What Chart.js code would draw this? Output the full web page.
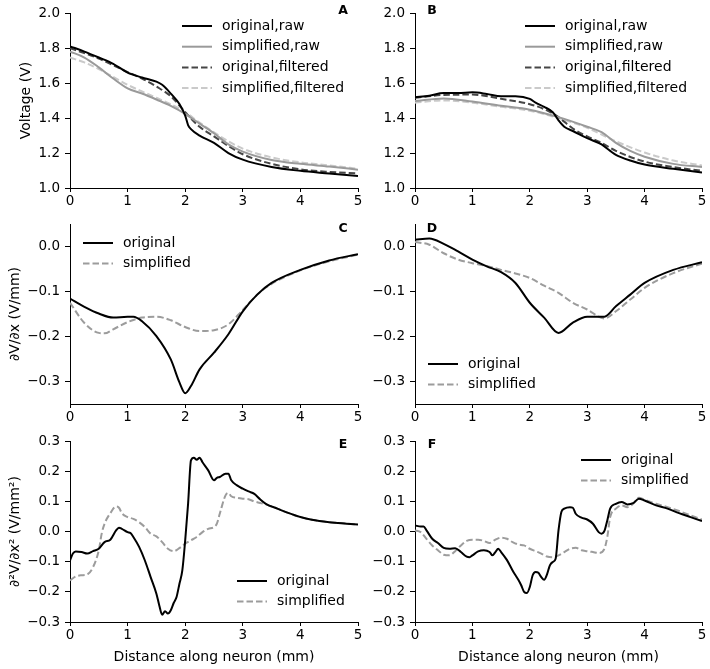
<!DOCTYPE html>
<html>
<head>
<meta charset="utf-8">
<script src="https://cdn.jsdelivr.net/npm/chart.js@4/dist/chart.umd.min.js"></script>
<style>
  body { margin: 0; background: #fff; }
  #wrap { position: relative; width: 710px; height: 669px; overflow: hidden; }
  canvas { position: absolute; }
</style>
</head>
<body>
<div id="wrap">
  <canvas id="cA"></canvas>
  <canvas id="cB"></canvas>
  <canvas id="cC"></canvas>
  <canvas id="cD"></canvas>
  <canvas id="cE"></canvas>
  <canvas id="cF"></canvas>
</div>
<script>
// tick labels
const xTicks = [0, 1, 2, 3, 4, 5]
const vTicks = [1.0, 1.2, 1.4, 1.6, 1.8, 2.0]
const dTicks = [-0.3, -0.2, -0.1, 0.0]
const d2Ticks = [-0.3, -0.2, -0.1, 0.0, 0.1, 0.2, 0.3]

// panel A, voltage, [x mm, V]
const aOrigRaw = [[0,1.81],[0.25,1.78],[0.5,1.746],[0.75,1.71],[1,1.66],[1.25,1.632],[1.5,1.608],[1.6,1.59],[1.75,1.54],[1.9,1.48],[2,1.414],[2.05,1.36],[2.1,1.337],[2.25,1.30],[2.5,1.258],[2.75,1.20],[3,1.162],[3.5,1.12],[4,1.098],[4.5,1.083],[5,1.068]]
const aSimpRaw = [[0,1.78],[0.25,1.746],[0.5,1.69],[0.75,1.626],[1,1.57],[1.25,1.54],[1.5,1.506],[1.75,1.47],[2,1.424],[2.25,1.368],[2.5,1.313],[2.75,1.249],[3,1.208],[3.5,1.16],[4,1.138],[4.5,1.123],[5,1.105]]
const aOrigFilt = [[0,1.80],[0.5,1.74],[1,1.663],[1.25,1.626],[1.5,1.58],[1.75,1.525],[2,1.433],[2.25,1.35],[2.5,1.295],[2.75,1.24],[3,1.193],[3.5,1.138],[4,1.107],[4.5,1.092],[5,1.083]]
const aSimpFilt = [[0,1.746],[0.25,1.718],[0.5,1.68],[0.75,1.635],[1,1.59],[1.25,1.552],[1.5,1.516],[1.75,1.479],[2,1.433],[2.25,1.374],[2.5,1.318],[2.75,1.267],[3,1.225],[3.5,1.175],[4,1.147],[4.5,1.129],[5,1.11]]

// panel B
const bOrigRaw = [[0,1.519],[0.25,1.528],[0.5,1.543],[0.75,1.543],[1,1.547],[1.25,1.538],[1.5,1.525],[1.75,1.525],[2,1.51],[2.1,1.488],[2.25,1.464],[2.4,1.433],[2.5,1.387],[2.6,1.35],[2.75,1.326],[3,1.285],[3.25,1.249],[3.4,1.212],[3.5,1.19],[3.75,1.157],[4,1.134],[4.5,1.11],[5,1.088]]
const bSimpRaw = [[0,1.497],[0.5,1.512],[1,1.494],[1.5,1.47],[2,1.448],[2.5,1.405],[3,1.35],[3.25,1.319],[3.5,1.258],[3.75,1.212],[4,1.179],[4.5,1.138],[5,1.12]]
const bOrigFilt = [[0,1.516],[0.5,1.532],[1,1.534],[1.5,1.51],[2,1.479],[2.25,1.451],[2.5,1.405],[2.75,1.34],[3,1.295],[3.25,1.258],[3.5,1.212],[4,1.151],[4.5,1.12],[5,1.098]]
const bSimpFilt = [[0,1.488],[0.5,1.501],[1,1.488],[1.5,1.464],[2,1.442],[2.5,1.40],[3,1.344],[3.5,1.267],[4,1.203],[4.5,1.157],[5,1.129]]

// panel C, dV/dx
const cOrig = [[0,-0.116],[0.25,-0.134],[0.5,-0.149],[0.75,-0.158],[1,-0.156],[1.1,-0.156],[1.25,-0.166],[1.5,-0.199],[1.75,-0.251],[1.9,-0.302],[2,-0.326],[2.1,-0.31],[2.25,-0.273],[2.5,-0.236],[2.75,-0.195],[3,-0.144],[3.25,-0.107],[3.5,-0.081],[4,-0.052],[4.5,-0.031],[5,-0.017]]
const cSimp = [[0,-0.125],[0.25,-0.17],[0.5,-0.192],[0.6,-0.193],[0.75,-0.184],[1,-0.168],[1.25,-0.158],[1.5,-0.156],[1.75,-0.164],[2,-0.179],[2.25,-0.188],[2.5,-0.186],[2.75,-0.173],[3,-0.141],[3.25,-0.107],[3.5,-0.083],[4,-0.053],[4.5,-0.033],[5,-0.018]]

// panel D
const dOrig = [[0,0.015],[0.25,0.018],[0.5,0.006],[0.75,-0.011],[1,-0.029],[1.25,-0.044],[1.5,-0.057],[1.75,-0.081],[2,-0.125],[2.25,-0.158],[2.5,-0.192],[2.75,-0.169],[3,-0.156],[3.3,-0.156],[3.5,-0.133],[3.75,-0.107],[4,-0.081],[4.5,-0.052],[5,-0.035]]
const dSimp = [[0,0.01],[0.25,0.004],[0.5,-0.015],[0.75,-0.029],[1,-0.037],[1.25,-0.043],[1.5,-0.052],[1.75,-0.06],[2,-0.07],[2.25,-0.087],[2.5,-0.103],[2.75,-0.125],[3,-0.14],[3.3,-0.16],[3.5,-0.144],[3.75,-0.118],[4,-0.092],[4.5,-0.059],[5,-0.038]]

// panel E, d2V/dx2
const eOrig = [[0,-0.096],[0.05,-0.073],[0.1,-0.066],[0.2,-0.068],[0.3,-0.073],[0.4,-0.065],[0.5,-0.057],[0.6,-0.035],[0.7,-0.027],[0.8,0.004],[0.85,0.013],[0.9,0.009],[1,-0.002],[1.05,-0.005],[1.1,-0.018],[1.2,-0.051],[1.3,-0.096],[1.4,-0.151],[1.5,-0.206],[1.55,-0.245],[1.6,-0.276],[1.65,-0.264],[1.7,-0.272],[1.75,-0.261],[1.8,-0.237],[1.85,-0.217],[1.9,-0.173],[1.95,-0.129],[2,-0.029],[2.05,0.092],[2.1,0.236],[2.15,0.245],[2.2,0.238],[2.25,0.245],[2.3,0.23],[2.4,0.203],[2.5,0.17],[2.55,0.178],[2.6,0.181],[2.7,0.192],[2.75,0.192],[2.8,0.17],[2.9,0.153],[3,0.142],[3.1,0.133],[3.2,0.125],[3.3,0.107],[3.4,0.092],[3.6,0.076],[3.8,0.061],[4,0.048],[4.2,0.039],[4.5,0.031],[4.8,0.026],[5,0.023]]
const eSimp = [[0,-0.162],[0.1,-0.149],[0.2,-0.145],[0.3,-0.142],[0.4,-0.118],[0.5,-0.062],[0.55,-0.007],[0.6,0.026],[0.7,0.061],[0.8,0.083],[0.85,0.079],[0.9,0.061],[1,0.048],[1.1,0.042],[1.2,0.031],[1.3,0.015],[1.4,-0.007],[1.5,-0.016],[1.6,-0.035],[1.7,-0.057],[1.8,-0.065],[1.9,-0.055],[2,-0.04],[2.1,-0.029],[2.2,-0.018],[2.3,-0.002],[2.4,0.009],[2.5,0.015],[2.55,0.026],[2.6,0.059],[2.7,0.12],[2.75,0.128],[2.8,0.117],[2.9,0.112],[3,0.109],[3.1,0.107],[3.2,0.1],[3.4,0.09],[3.6,0.076],[3.8,0.061],[4,0.048],[4.2,0.039],[4.5,0.031],[4.8,0.026],[5,0.023]]

// panel F
const fOrig = [[0,0.02],[0.1,0.017],[0.15,0.017],[0.2,0.004],[0.3,-0.024],[0.4,-0.038],[0.5,-0.054],[0.6,-0.057],[0.7,-0.055],[0.8,-0.068],[0.9,-0.083],[0.95,-0.085],[1,-0.079],[1.1,-0.066],[1.2,-0.062],[1.3,-0.068],[1.35,-0.079],[1.4,-0.068],[1.45,-0.057],[1.5,-0.068],[1.6,-0.094],[1.7,-0.129],[1.8,-0.16],[1.85,-0.178],[1.9,-0.2],[1.95,-0.204],[2,-0.184],[2.05,-0.145],[2.1,-0.134],[2.15,-0.137],[2.2,-0.151],[2.25,-0.16],[2.3,-0.142],[2.35,-0.112],[2.4,-0.101],[2.45,-0.09],[2.5,0.004],[2.55,0.065],[2.6,0.076],[2.7,0.081],[2.75,0.079],[2.8,0.059],[2.9,0.046],[3,0.04],[3.1,0.026],[3.2,-0.002],[3.25,-0.007],[3.3,0.002],[3.35,0.037],[3.4,0.076],[3.5,0.092],[3.6,0.098],[3.7,0.09],[3.8,0.094],[3.9,0.109],[4,0.103],[4.2,0.087],[4.4,0.076],[4.6,0.061],[4.8,0.048],[5,0.035]]
const fSimp = [[0,0.004],[0.1,-0.002],[0.2,-0.024],[0.3,-0.046],[0.4,-0.062],[0.5,-0.077],[0.6,-0.079],[0.7,-0.065],[0.8,-0.046],[0.9,-0.031],[1,-0.027],[1.1,-0.027],[1.2,-0.031],[1.3,-0.038],[1.4,-0.027],[1.5,-0.02],[1.6,-0.024],[1.7,-0.035],[1.8,-0.043],[1.9,-0.046],[2,-0.057],[2.1,-0.065],[2.2,-0.073],[2.3,-0.083],[2.4,-0.085],[2.5,-0.079],[2.6,-0.068],[2.7,-0.057],[2.8,-0.054],[2.9,-0.062],[3,-0.065],[3.1,-0.068],[3.2,-0.071],[3.3,-0.057],[3.35,-0.018],[3.4,0.048],[3.5,0.076],[3.6,0.087],[3.7,0.081],[3.8,0.092],[3.9,0.112],[4,0.105],[4.2,0.092],[4.4,0.081],[4.6,0.068],[4.8,0.054],[5,0.04]]

const rawLabels = ['original,raw', 'simplified,raw', 'original,filtered', 'simplified,filtered']
const derLabels = ['original', 'simplified']

const FONT = 'DejaVu Sans'
Chart.defaults.font.family = FONT
Chart.defaults.color = '#000'

// line styles
const styles = {
  origRaw:  {borderColor: '#000', borderWidth: 2, borderDash: []},
  simpRaw:  {borderColor: '#9a9a9a', borderWidth: 2, borderDash: []},
  origFilt: {borderColor: '#464646', borderWidth: 2, borderDash: [6.5, 3]},
  simpFilt: {borderColor: '#cacaca', borderWidth: 2, borderDash: [6.5, 3]},
  orig:     {borderColor: '#000', borderWidth: 2, borderDash: []},
  simp:     {borderColor: '#9c9c9c', borderWidth: 2, borderDash: [6.5, 3]}
}

function ds(label, pts, st) {
  return Object.assign({
    label: label,
    data: pts.map(p => ({x: p[0], y: p[1]})),
    pointRadius: 0,
    fill: false,
    cubicInterpolationMode: 'monotone'
  }, st)
}

function fmt(v) {
  return v.toFixed(1).replace('-', '\u2212')
}

// draws the in-axes legend and panel letter
const extras = {
  id: 'extras',
  afterDraw(chart, args, o) {
    const c = chart.ctx
    c.save()
    c.font = 'bold 12.5px ' + FONT
    c.fillStyle = '#000'
    c.textAlign = 'center'
    c.textBaseline = 'middle'
    c.fillText(o.letter, o.letterX, o.letterY)
    c.font = '14px ' + FONT
    c.textAlign = 'left'
    chart.data.datasets.forEach((d, i) => {
      const y = o.legY + i * o.legStep
      c.strokeStyle = d.borderColor
      c.lineWidth = d.borderWidth
      c.setLineDash(d.borderDash)
      c.beginPath()
      c.moveTo(o.legX, y)
      c.lineTo(o.legX + 30, y)
      c.stroke()
      c.fillText(d.label, o.legX + 40, y)
    })
    c.restore()
  }
}

function makePanel(id, box, area, datasets, yRange, yTicks, yTitle, xTitle, extra) {
  const cv = document.getElementById(id)
  cv.width = box.w
  cv.height = box.h
  cv.style.left = box.l + 'px'
  cv.style.top = box.t + 'px'
  cv.style.width = box.w + 'px'
  cv.style.height = box.h + 'px'
  const yW = area.l - box.l
  const xH = box.t + box.h - area.b
  const opt = Object.assign({}, extra)
  opt.letterX -= box.l; opt.letterY -= box.t
  opt.legX -= box.l; opt.legY -= box.t
  new Chart(cv, {
    type: 'line',
    data: {datasets: datasets},
    plugins: [extras],
    options: {
      responsive: false,
      animation: false,
      layout: {padding: {top: area.t - box.t, right: box.l + box.w - area.r, left: 0, bottom: 0}},
      plugins: {legend: {display: false}, tooltip: {enabled: false}, extras: opt},
      scales: {
        x: {
          type: 'linear', min: 0, max: 5,
          afterBuildTicks: s => { s.ticks = xTicks.map(v => ({value: v})) },
          afterFit: s => { s.height = xH },
          ticks: {font: {size: 13.5}, padding: 1, maxRotation: 0, callback: v => String(v)},
          grid: {display: true, drawOnChartArea: false, drawTicks: true, tickLength: 4, color: '#000'},
          border: {color: '#000', width: 1},
          title: {display: !!xTitle, text: xTitle || '', font: {size: 14}, padding: {top: 0, bottom: 3}}
        },
        y: {
          type: 'linear', min: yRange[0], max: yRange[1],
          afterBuildTicks: s => { s.ticks = yTicks.map(v => ({value: v})) },
          afterFit: s => { s.width = yW },
          ticks: {font: {size: 13.5}, padding: 5, callback: v => fmt(v)},
          grid: {display: true, drawOnChartArea: false, drawTicks: true, tickLength: 5, color: '#000'},
          border: {color: '#000', width: 1},
          title: {display: !!yTitle, text: yTitle || '', font: {size: 14}, padding: {top: yTitle ? extra.titlePad : 0, bottom: 0}}
        }
      }
    }
  })
}

const L = {l: 0, w: 366}, R = {l: 355, w: 355}
const rows = [{t: 0, h: 210}, {t: 210, h: 218}, {t: 428, h: 241}]
const colArea = [{l: 70, r: 358}, {l: 415, r: 702}]
const rowArea = [{t: 7, b: 188}, {t: 224, b: 404}, {t: 441, b: 622}]
function bx(c, r) { const cc = c ? R : L; return {l: cc.l, w: cc.w, t: rows[r].t, h: rows[r].h} }
function ar(c, r) { return {l: colArea[c].l, r: colArea[c].r, t: rowArea[r].t, b: rowArea[r].b} }

makePanel('cA', bx(0, 0), ar(0, 0), [
  ds(rawLabels[0], aOrigRaw, styles.origRaw), ds(rawLabels[1], aSimpRaw, styles.simpRaw),
  ds(rawLabels[2], aOrigFilt, styles.origFilt), ds(rawLabels[3], aSimpFilt, styles.simpFilt)
], [1.0, 2.0], vTicks, 'Voltage (V)', null,
  {letter: 'A', letterX: 343, letterY: 11, legX: 182, legY: 26, legStep: 20.7, titlePad: 18})

makePanel('cB', bx(1, 0), ar(1, 0), [
  ds(rawLabels[0], bOrigRaw, styles.origRaw), ds(rawLabels[1], bSimpRaw, styles.simpRaw),
  ds(rawLabels[2], bOrigFilt, styles.origFilt), ds(rawLabels[3], bSimpFilt, styles.simpFilt)
], [1.0, 2.0], vTicks, null, null,
  {letter: 'B', letterX: 432, letterY: 11, legX: 525, legY: 26, legStep: 20.7})

makePanel('cC', bx(0, 1), ar(0, 1), [
  ds(derLabels[0], cOrig, styles.orig), ds(derLabels[1], cSimp, styles.simp)
], [-0.35, 0.05], dTicks, '\u2202V/\u2202x (V/mm)', null,
  {letter: 'C', letterX: 343, letterY: 229, legX: 83, legY: 243, legStep: 20.5, titlePad: 7})

makePanel('cD', bx(1, 1), ar(1, 1), [
  ds(derLabels[0], dOrig, styles.orig), ds(derLabels[1], dSimp, styles.simp)
], [-0.35, 0.05], dTicks, null, null,
  {letter: 'D', letterX: 432, letterY: 229, legX: 428, legY: 364, legStep: 20.5})

makePanel('cE', bx(0, 2), ar(0, 2), [
  ds(derLabels[0], eOrig, styles.orig), ds(derLabels[1], eSimp, styles.simp)
], [-0.3, 0.3], d2Ticks, '\u2202\u00b2V/\u2202x\u00b2 (V/mm\u00b2)', 'Distance along neuron (mm)',
  {letter: 'E', letterX: 343, letterY: 445, legX: 237, legY: 581, legStep: 20.5, titlePad: 7})

makePanel('cF', bx(1, 2), ar(1, 2), [
  ds(derLabels[0], fOrig, styles.orig), ds(derLabels[1], fSimp, styles.simp)
], [-0.3, 0.3], d2Ticks, null, 'Distance along neuron (mm)',
  {letter: 'F', letterX: 432, letterY: 445, legX: 581, legY: 460, legStep: 20.5})
</script>
</body>
</html>
